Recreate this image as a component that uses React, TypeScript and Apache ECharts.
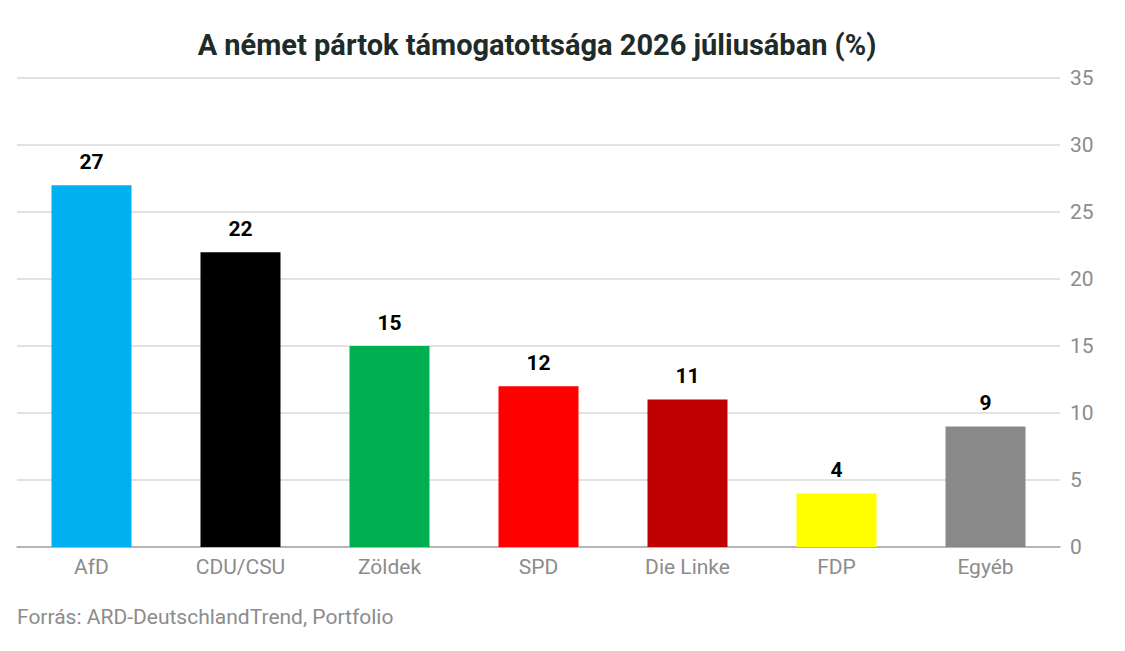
import { useEffect, useRef } from 'react'
import * as echarts from 'echarts'

const parties = ['AfD', 'CDU/CSU', 'Zöldek', 'SPD', 'Die Linke', 'FDP', 'Egyéb']
const support = [27, 22, 15, 12, 11, 4, 9]
const partyColors = ['#00B0F0', '#000000', '#00B050', '#FF0000', '#C00000', '#FFFF00', '#898989']

const FONT = 'Roboto, "Noto Sans", sans-serif'

export default function App() {
  const chartRef = useRef<HTMLDivElement>(null)

  useEffect(() => {
    if (!chartRef.current) return
    document.body.style.margin = '0'

    const chart = echarts.init(chartRef.current, null, { renderer: 'svg' })
    chart.setOption({
      animation: false,
      backgroundColor: '#ffffff',
      textStyle: { fontFamily: FONT },
      title: [
        {
          text: 'A német pártok támogatottsága 2026 júliusában (%)',
          left: 537,
          textAlign: 'center',
          top: 30,
          padding: 0,
          textStyle: { fontSize: 29, fontWeight: 'bold', color: '#1e2b28', fontFamily: FONT },
        },
        {
          text: 'Forrás: ARD-DeutschlandTrend, Portfolio',
          left: 17,
          top: 606,
          padding: 0,
          textStyle: { fontSize: 21, fontWeight: 'normal', color: '#8c8c8c', fontFamily: FONT },
        },
      ],
      grid: { left: 17, right: 65, top: 78, bottom: 104, containLabel: false },
      xAxis: {
        type: 'category',
        data: parties,
        axisTick: { show: false },
        axisLine: { lineStyle: { color: '#a6a6a6', width: 1.5 } },
        axisLabel: { color: '#8c8c8c', fontSize: 21, margin: 9, fontFamily: FONT },
      },
      yAxis: {
        type: 'value',
        position: 'right',
        min: 0,
        max: 35,
        interval: 5,
        axisLine: { show: false },
        axisTick: { show: false },
        splitLine: { lineStyle: { color: '#d9d9d9', width: 1.5 } },
        axisLabel: { color: '#8c8c8c', fontSize: 21, margin: 10, fontFamily: FONT },
      },
      series: [
        {
          type: 'bar',
          barWidth: 80,
          data: support.map((v, i) => ({ value: v, itemStyle: { color: partyColors[i] } })),
          label: {
            show: true,
            position: 'top',
            distance: 13,
            color: '#000000',
            fontSize: 21,
            fontWeight: 'bold',
            fontFamily: FONT,
          },
        },
      ],
    })

    return () => {
      chart.dispose()
    }
  }, [])

  return <div ref={chartRef} style={{ width: 1125, height: 651 }}></div>
}
